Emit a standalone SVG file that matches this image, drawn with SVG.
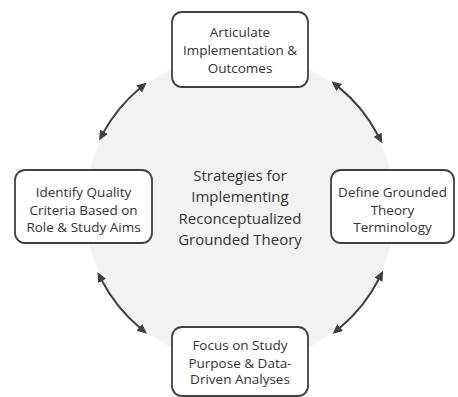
<svg xmlns="http://www.w3.org/2000/svg" width="458" height="397" viewBox="0 0 458 397">
  <defs>
    <style>
      .box { fill: #ffffff; stroke: #404040; stroke-width: 1.8; }
      .lbl { font-family: "Open Sans", "Liberation Sans", sans-serif; font-size: 13.5px; fill: #333333; text-anchor: middle; }
      .ctr { font-family: "Open Sans", "Liberation Sans", sans-serif; font-size: 15px; fill: #333333; text-anchor: middle; }
      .arc { fill: none; stroke: #404040; stroke-width: 2; marker-start: url(#ah); marker-end: url(#ah); }
    </style>
    <marker id="ah" markerUnits="userSpaceOnUse" markerWidth="12" markerHeight="10" refX="1" refY="4.5" orient="auto-start-reverse">
      <path d="M0,0 L10,4.5 L0,9 z" fill="#404040"/>
    </marker>
  </defs>
  <rect width="458" height="397" fill="#ffffff"/>
  <circle cx="240" cy="208" r="155" fill="#f2f2f2"/>
  <g id="center">
    <text class="ctr" x="240" y="180.5">Strategies for</text>
    <text class="ctr" x="240" y="202">Implementing</text>
    <text class="ctr" x="240" y="223.5">Reconceptualized</text>
    <text class="ctr" x="240" y="245">Grounded Theory</text>
  </g>
  <g id="connectors">
    <path class="arc" d="M139.9,88.3 A156,156 0 0 0 103.4,132.6"/>
    <path class="arc" d="M338.4,86.9 A156,156 0 0 1 378.1,135.5"/>
    <path class="arc" d="M101.6,280.0 A156,156 0 0 0 140.1,327.9"/>
    <path class="arc" d="M379.0,278.8 A156,156 0 0 1 339.4,328.2"/>
  </g>
  <g id="node-top">
    <rect class="box" x="172" y="12" width="136" height="75" rx="10"/>
    <text class="lbl" x="240" y="37">Articulate</text>
    <text class="lbl" x="240" y="55">Implementation &amp;</text>
    <text class="lbl" x="240" y="72.5">Outcomes</text>
  </g>
  <g id="node-left">
    <rect class="box" x="15" y="170" width="137" height="73" rx="10"/>
    <text class="lbl" x="83.5" y="197">Identify Quality</text>
    <text class="lbl" x="83.5" y="214.5">Criteria Based on</text>
    <text class="lbl" x="83.5" y="232">Role &amp; Study Aims</text>
  </g>
  <g id="node-right">
    <rect class="box" x="331" y="170" width="123" height="73" rx="10"/>
    <text class="lbl" x="392.5" y="197">Define Grounded</text>
    <text class="lbl" x="392.5" y="214.5">Theory</text>
    <text class="lbl" x="392.5" y="232">Terminology</text>
  </g>
  <g id="node-bottom">
    <rect class="box" x="172" y="327" width="136" height="69" rx="10"/>
    <text class="lbl" x="240" y="350">Focus on Study</text>
    <text class="lbl" x="240" y="367.5">Purpose &amp; Data-</text>
    <text class="lbl" x="240" y="384">Driven Analyses</text>
  </g>
</svg>
